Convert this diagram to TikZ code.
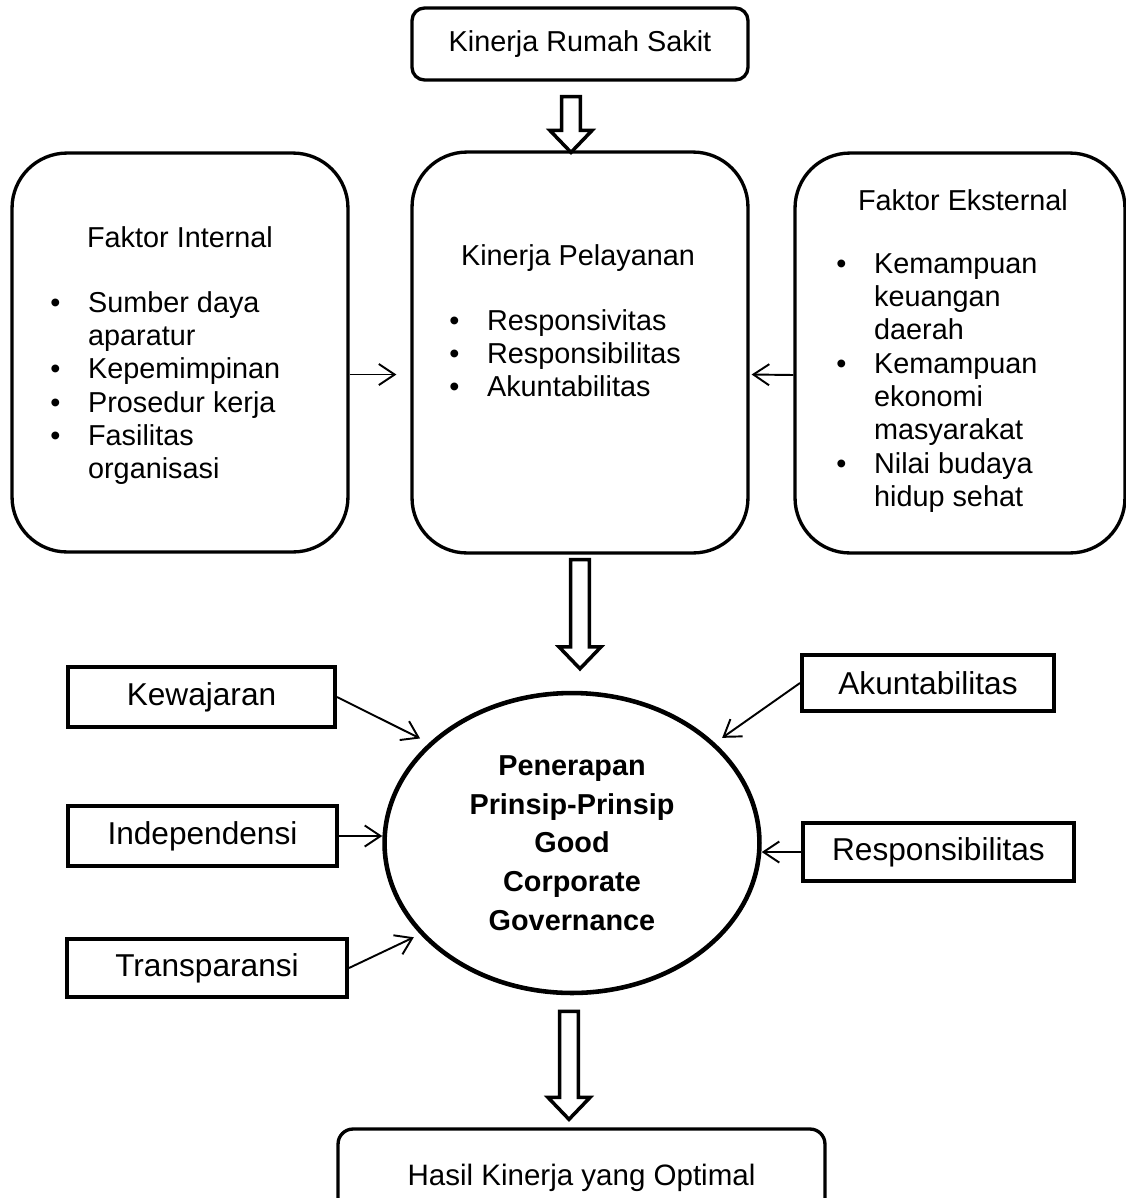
\documentclass[tikz,border=0pt]{standalone}
\usepackage{fontspec}
\setmainfont{Liberation Sans}
\usetikzlibrary{calc,positioning,shapes.geometric,arrows.meta}

\newcommand{\bodysize}{\fontsize{16.4}{19}\selectfont}
% hollow block arrow from a start point down to a tip point
\newcommand{\blockarrow}[2]{%
  \draw[line width=2pt, line join=miter, fill=white] let \p1=#1, \p2=#2 in
    (\x1-5.4pt,\y1) -- (\x1+5.4pt,\y1) -- (\x1+5.4pt,\y2+12.5pt)
    -- (\x1+12pt,\y2+12.5pt) -- (\x1,\y2) -- (\x1-12pt,\y2+12.5pt)
    -- (\x1-5.4pt,\y2+12.5pt) -- cycle;}

\begin{document}
\begin{tikzpicture}[x=0.02cm, y=-0.02cm,
    roundbox/.style={draw, line width=1.9pt, rounded corners=1.1cm, inner sep=0},
    smallbox/.style={draw, line width=2.3pt, inner sep=0, font=\fontsize{18}{21}\selectfont},
    link/.style={line width=1.1pt, -{Straight Barb[length=9pt,width=12pt]}},
    title/.style={anchor=base, inner sep=0, font=\bodysize},
    list/.style={anchor=base west, inner sep=0, font=\bodysize}]
    \useasboundingbox (0,0) rectangle (1126,1198);
    \clip (0,0) rectangle (1126,1198);

    % top row
    \node[roundbox, rounded corners=0.25cm, minimum width=6.72cm, minimum height=1.44cm, font=\bodysize] (krs) at (580,44) {Kinerja Rumah Sakit};
    \node[roundbox, minimum width=6.72cm, minimum height=7.98cm] (fi) at (180,352.5) {};
    \node[roundbox, minimum width=6.72cm, minimum height=8.02cm] (kp) at (580,352.5) {};
    \node[roundbox, minimum width=6.6cm, minimum height=8cm] (fe) at (960,353) {};

    \node[title] (fititle) at (180,247) {Faktor Internal};
    \node[list] (filist) at (50,312) {\begin{tabular}[t]{@{}p{21.5pt}@{}l@{}}
        • & Sumber daya\\ & aparatur\\ • & Kepemimpinan\\ • & Prosedur kerja\\ • & Fasilitas\\ & organisasi
        \end{tabular}};

    \node[title] (kptitle) at (578,265) {Kinerja Pelayanan};
    \node[list] (kplist) at (449,330) {\begin{tabular}[t]{@{}p{21.5pt}@{}l@{}}
        • & Responsivitas\\ • & Responsibilitas\\ • & Akuntabilitas
        \end{tabular}};

    \node[title] (fetitle) at (963,210) {Faktor Eksternal};
    \node[list] (felist) at (836,273) {\begin{tabular}[t]{@{}p{21.5pt}@{}l@{}}
        • & Kemampuan\\ & keuangan\\ & daerah\\ • & Kemampuan\\ & ekonomi\\ & masyarakat\\ • & Nilai budaya\\ & hidup sehat
        \end{tabular}};

    % principles
    \node[draw, ellipse, line width=2.6pt, minimum width=7.5cm, minimum height=6cm, inner sep=0, align=center,
        font=\bfseries\fontsize{16.4}{22}\selectfont] (ell) at (572,843)
        {Penerapan\\Prinsip-Prinsip\\Good\\Corporate\\Governance};

    \node[smallbox, minimum width=5.34cm, minimum height=1.2cm] (kew) at (201.5,697) {Kewajaran};
    \node[smallbox, minimum width=5.38cm, minimum height=1.2cm] (ind) at (202.5,836) {Independensi};
    \node[smallbox, minimum width=5.6cm, minimum height=1.16cm] (tra) at (207,968) {Transparansi};
    \node[smallbox, minimum width=5.04cm, minimum height=1.12cm] (aku) at (928,683) {Akuntabilitas};
    \node[smallbox, minimum width=5.42cm, minimum height=1.16cm] (res) at (938.5,852) {Responsibilitas};

    \node[roundbox, rounded corners=0.3cm, minimum width=9.74cm, minimum height=1.96cm,
        font=\fontsize{16.8}{19}\selectfont] (hk) at (581.5,1178) {Hasil Kinerja yang Optimal};

    % connectors
    \draw[link] ($(fi.east)+(0,22)$) -- ($(kp.west)+(-14,22)$);
    \draw[link] ($(fe.west)+(0,22)$) -- ($(kp.east)+(2,22)$);
    \draw[link, shorten >=5.7pt] (kew.east) -- (ell.145);
    \draw[link] (ind.east) -- (ind.east -| ell.west);
    \draw[link, shorten >=4pt] (tra.east) -- (ell.211);
    \draw[link, shorten >=5pt] (aku.west) -- (ell.35);
    \draw[link] (res.west) -- (res.west -| ell.east);

    \blockarrow{($(krs.south)+(-9,15)$)}{($(kp.north)+(0,2)$)}
    \blockarrow{($(kp.south)+(0,5)$)}{($(ell.north)+(0,-22)$)}
    \blockarrow{($(ell.south)+(-3,16)$)}{($(hk.north)+(0,-8)$)}
\end{tikzpicture}
\end{document}
